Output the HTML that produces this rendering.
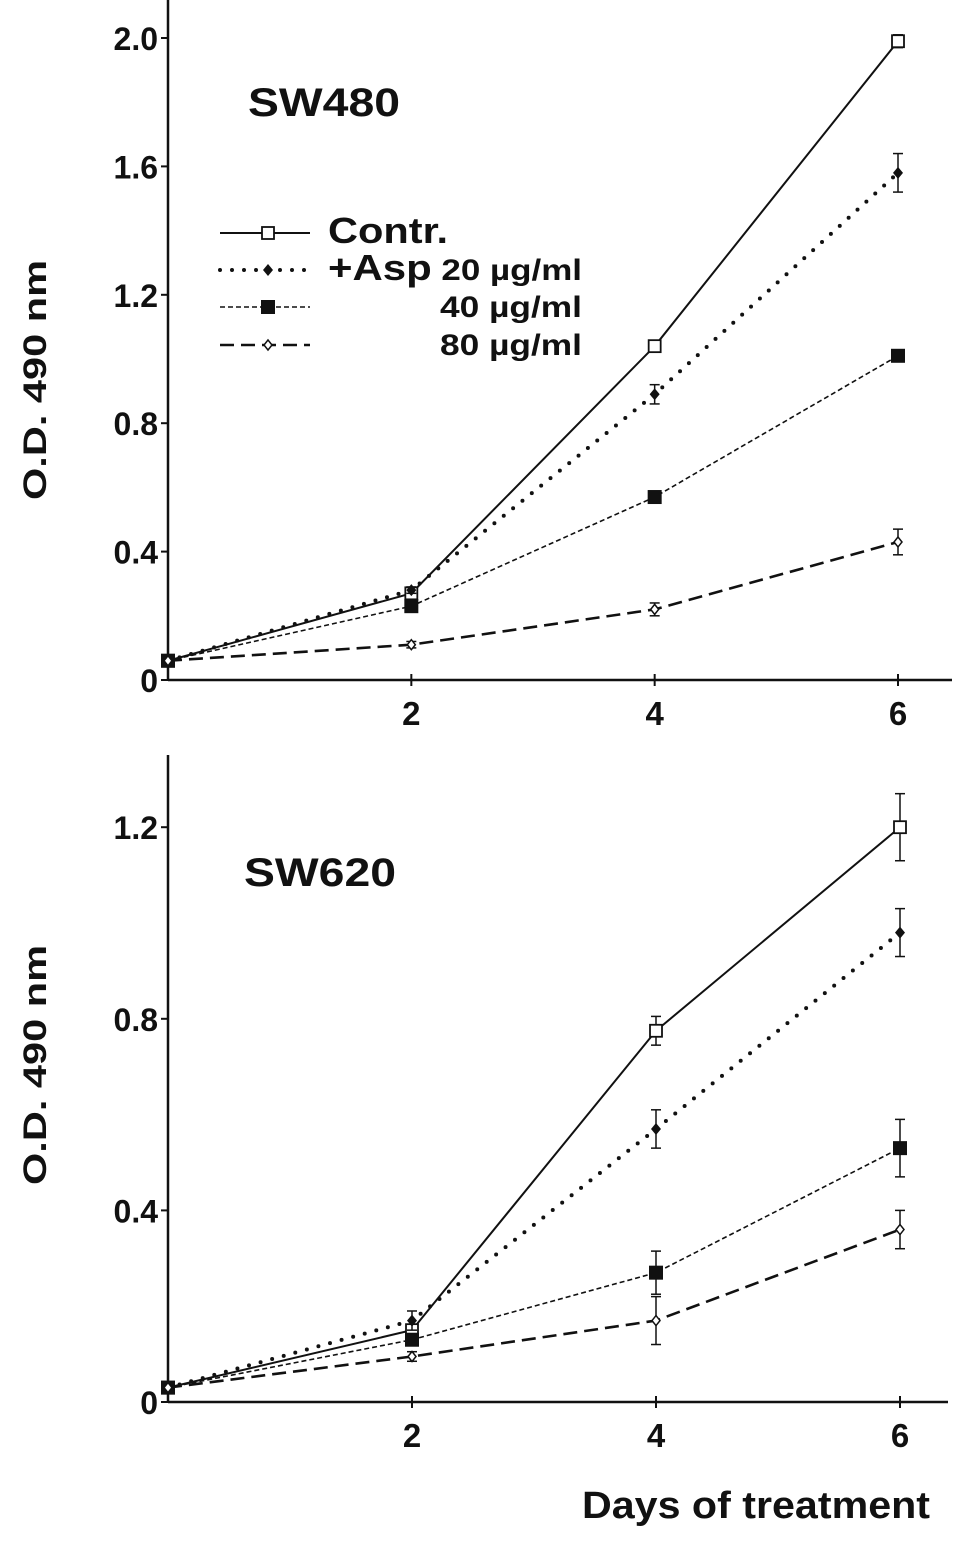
<!DOCTYPE html>
<html><head><meta charset="utf-8"><style>
html,body{margin:0;padding:0;background:#fff;}
svg text{font-family:"Liberation Sans",Arial,sans-serif;font-weight:bold;fill:#111;}
</style></head><body>
<svg id="chart" width="969" height="1540" viewBox="0 0 969 1540" xmlns="http://www.w3.org/2000/svg"></svg>
<script>
const days=[0,2,4,6];
const seriesNames=["Contr.","+Asp 20 µg/ml","40 µg/ml","80 µg/ml"];
const topContr=[0.06,0.27,1.04,1.99];
const topAsp20=[0.06,0.28,0.89,1.58];
const topAsp40=[0.06,0.23,0.57,1.01];
const topAsp80=[0.06,0.11,0.22,0.43];
const topErr20=[0,0.01,0.03,0.06];
const topErrC=[0,0.01,0.01,0.02];
const topErr80=[0,0.01,0.02,0.04];
const botContr=[0.03,0.15,0.775,1.20];
const botAsp20=[0.03,0.17,0.57,0.98];
const botAsp40=[0.03,0.13,0.27,0.53];
const botAsp80=[0.03,0.095,0.17,0.36];
const botErrC=[0,0.01,0.03,0.07];
const botErr20=[0,0.02,0.04,0.05];
const botErr40=[0,0.01,0.045,0.06];
const botErr80=[0,0.01,0.05,0.04];
const topTicks=[0,0.4,0.8,1.2,1.6,2.0];
const topTickLabels=["0","0.4","0.8","1.2","1.6","2.0"];
const botTicks=[0,0.4,0.8,1.2];
const botTickLabels=["0","0.4","0.8","1.2"];
const xTicks=[2,4,6];

const NS="http://www.w3.org/2000/svg";
const svg=document.getElementById('chart');
function el(tag,attrs,parent){const e=document.createElementNS(NS,tag);for(const k in attrs)e.setAttribute(k,attrs[k]);(parent||svg).appendChild(e);return e;}

const styles=[
 {dash:"",w:2,marker:"openSq",cap:"butt"},
 {dash:"0,12",w:4,marker:"diamond",cap:"round"},
 {dash:"5,3",w:1.6,marker:"fillSq",cap:"butt"},
 {dash:"14,7",w:2.6,marker:"openDia",cap:"butt"}
];

function marker(g,type,x,y){
  let m;
  if(type==="openSq") m=el('rect',{x:x-6,y:y-6,width:12,height:12,fill:'#fff',stroke:'#111','stroke-width':1.8},g);
  else if(type==="fillSq") m=el('rect',{x:x-7,y:y-7,width:14,height:14,fill:'#111'},g);
  else if(type==="diamond") m=el('polygon',{points:`${x},${y-6} ${x+5},${y} ${x},${y+6} ${x-5},${y}`,fill:'#111'},g);
  else m=el('polygon',{points:`${x},${y-5} ${x+4},${y} ${x},${y+5} ${x-4},${y}`,fill:'#fff',stroke:'#111','stroke-width':1.5},g);
  
  
}

function panel(cfg){
  const g=el('g',{});
  
  
  const X=d=>cfg.x0+(cfg.x6-cfg.x0)*d/6;
  const Y=v=>cfg.y0-v*cfg.ppu;
  const ya=el('line',{x1:cfg.x0,y1:cfg.yTop,x2:cfg.x0,y2:cfg.y0,stroke:'#111','stroke-width':2.5},g);
  
  const xa=el('line',{x1:cfg.x0,y1:cfg.y0,x2:cfg.xEnd,y2:cfg.y0,stroke:'#111','stroke-width':2.5},g);
  
  cfg.ticks.forEach((t,i)=>{
    el('line',{x1:cfg.x0-7,y1:Y(t),x2:cfg.x0,y2:Y(t),stroke:'#111','stroke-width':2},g);
    const tx=el('text',{x:cfg.x0-10,y:Y(t)+12,'text-anchor':'end','font-size':32},g);
    tx.textContent=cfg.labels[i];
    
  });
  xTicks.forEach(d=>{
    el('line',{x1:X(d),y1:cfg.y0-6,x2:X(d),y2:cfg.y0+6,stroke:'#111','stroke-width':2},g);
    const tx=el('text',{x:X(d),y:cfg.y0+45,'text-anchor':'middle','font-size':33},g);
    tx.textContent=d;
    
  });
  const yt=el('text',{x:0,y:0,'text-anchor':'middle','font-size':32,textLength:240,lengthAdjust:'spacingAndGlyphs',transform:`translate(46,${cfg.yTitle}) rotate(-90)`},g);
  yt.textContent="O.D. 490 nm";
  
  const tt=el('text',{x:cfg.titleX,y:cfg.titleY,'font-size':40,textLength:152,lengthAdjust:'spacingAndGlyphs'},g);
  tt.textContent=cfg.title;
  
  cfg.series.forEach((s,si)=>{
    const st=styles[si];
    const pts=s.map((v,i)=>X(days[i])+','+Y(v)).join(' ');
    const pl=el('polyline',{points:pts,fill:'none',stroke:'#111','stroke-width':st.w,'stroke-dasharray':st.dash,'stroke-linecap':st.cap},g);
    
    const err=cfg.errs[si];
    s.forEach((v,i)=>{
      if(err&&err[i]>0.005){
        const x=X(days[i]);
        el('line',{x1:x,y1:Y(v-err[i]),x2:x,y2:Y(v+err[i]),stroke:'#111','stroke-width':1.5},g);
        el('line',{x1:x-5,y1:Y(v+err[i]),x2:x+5,y2:Y(v+err[i]),stroke:'#111','stroke-width':1.5},g);
        el('line',{x1:x-5,y1:Y(v-err[i]),x2:x+5,y2:Y(v-err[i]),stroke:'#111','stroke-width':1.5},g);
      }
      marker(g,st.marker,X(days[i]),Y(v));
    });
  });
}

panel({name:'sw480-panel',x0:168,x6:898,xEnd:952,y0:680,yTop:0,ppu:321,ticks:topTicks,labels:topTickLabels,
  yTitle:380,title:'SW480',titleX:248,titleY:116,
  series:[topContr,topAsp20,topAsp40,topAsp80],errs:[topErrC,topErr20,null,topErr80]});
panel({name:'sw620-panel',x0:168,x6:900,xEnd:948,y0:1402,yTop:755,ppu:479,ticks:botTicks,labels:botTickLabels,
  yTitle:1065,title:'SW620',titleX:244,titleY:886,
  series:[botContr,botAsp20,botAsp40,botAsp80],errs:[botErrC,botErr20,botErr40,botErr80]});

// legend
const lg=el('g',{});


const legY=[233,270,307,345];
const legTextX=[328,328,440,440];
seriesNames.forEach((n,i)=>{
  const st=styles[i];
  const ln=el('line',{x1:220,y1:legY[i],x2:310,y2:legY[i],stroke:'#111','stroke-width':st.w,'stroke-dasharray':st.dash,'stroke-linecap':st.cap},lg);
  
  marker(lg,st.marker,268,legY[i]);
  let t;
  if(i===0){t=el('text',{x:328,y:legY[i]+10,'font-size':36,textLength:120,lengthAdjust:'spacingAndGlyphs'},lg);t.textContent=n;}
  else if(i===1){t=el('text',{x:328,y:legY[i]+10,'font-size':30,textLength:254,lengthAdjust:'spacingAndGlyphs'},lg);t.innerHTML='<tspan font-size="36">+Asp</tspan> 20 µg/ml';}
  else {t=el('text',{x:440,y:legY[i]+10,'font-size':30,textLength:142,lengthAdjust:'spacingAndGlyphs'},lg);t.textContent=n;}
  
});
const xt=el('text',{x:582,y:1518,'font-size':38,textLength:348,lengthAdjust:'spacingAndGlyphs'});
xt.textContent='Days of treatment';


</script>
</body></html>
